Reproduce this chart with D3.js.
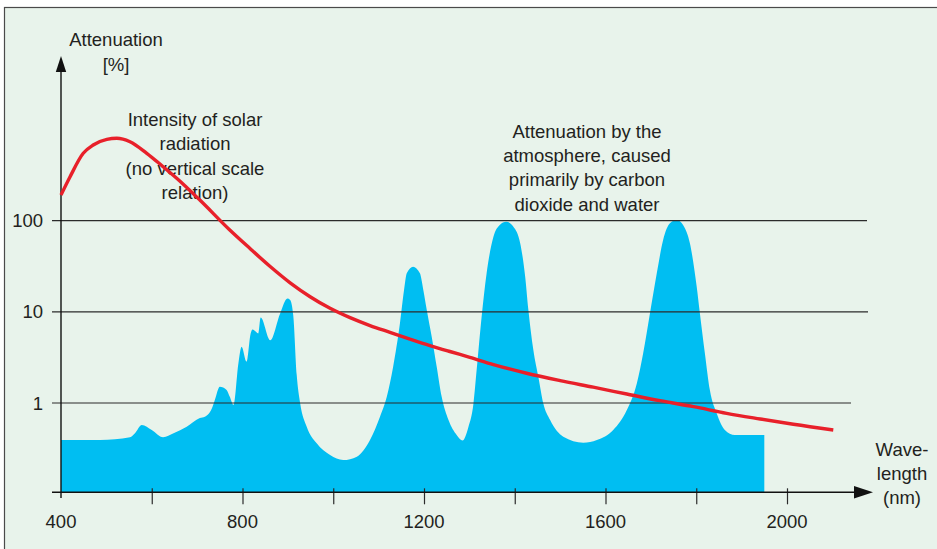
<!DOCTYPE html>
<html><head><meta charset="utf-8">
<script src="https://cdn.jsdelivr.net/npm/d3@7"></script>
<style>html,body{margin:0;padding:0;background:#fff;}svg{display:block;}</style>
</head><body>
<script>
// ---- data ----
const xTickValues = [400, 600, 800, 1000, 1200, 1400, 1600, 1800, 2000];
const xTickLabels = [400, 800, 1200, 1600, 2000];
const yTickValues = [1, 10, 100];
const yTickLabels = ["1", "10", "100"];

// Attenuation by the atmosphere [%] vs wavelength [nm]
const attenNm  = [400, 486, 552, 563, 578, 600, 625, 648, 677, 706, 717, 734, 739, 750, 765, 772, 780, 791, 798, 809, 818, 822, 835, 840, 861, 883, 899, 905, 912, 919.5, 927, 941.5, 963.5, 993, 1022, 1052, 1081, 1103, 1118, 1132, 1147, 1156, 1162, 1176, 1191, 1198.5, 1206, 1217, 1228, 1239, 1254, 1272, 1285, 1298, 1309, 1316, 1327, 1338, 1353, 1367, 1381, 1397, 1412, 1423, 1430, 1441, 1452, 1463, 1478, 1507, 1551, 1581, 1617, 1647, 1669, 1683, 1698, 1713, 1727, 1742, 1757, 1771, 1786, 1801, 1808, 1819, 1830, 1845, 1863, 1885, 1948, 1950];
const attenVal = [0.394, 0.394, 0.421, 0.466, 0.574, 0.506, 0.421, 0.466, 0.55, 0.685, 0.708, 0.911, 1.08, 1.508, 1.388, 1.17, 0.951, 2.72, 4.13, 2.83, 5.79, 6.41, 5.79, 8.67, 4.89, 9.6, 14.0, 13.5, 9.0, 2.03, 1.0, 0.55, 0.361, 0.269, 0.237, 0.258, 0.393, 0.708, 1.17, 2.5, 7.48, 17.3, 26.4, 31.2, 26.4, 17.3, 10.5, 5.33, 2.5, 1.17, 0.651, 0.446, 0.388, 0.55, 0.99, 2.3, 8.84, 26.4, 66.6, 89.5, 97.3, 85.8, 56.4, 24.3, 10.5, 3.81, 1.94, 0.99, 0.651, 0.427, 0.367, 0.393, 0.506, 0.838, 1.64, 3.51, 9.63, 26.4, 61.3, 93.4, 101.6, 89.5, 56.4, 18.8, 9.63, 3.51, 1.39, 0.771, 0.506, 0.446, 0.446, 0.446];

// Intensity of solar radiation (no vertical scale relation)
const solarNm  = [400, 420, 449, 471, 501, 523, 552, 589, 625, 655, 706, 772, 816, 861, 905, 949, 993, 1037, 1081, 1125, 1169, 1213, 1257, 1301, 1353, 1426, 1500, 1573, 1647, 1720, 1794, 1867, 1941, 2014, 2102];
const solarVal = [191, 303, 547, 674, 779, 799, 733, 547, 390, 291, 168, 78.9, 49.7, 31.4, 20.8, 14.64, 10.92, 8.62, 7.07, 5.96, 5.03, 4.27, 3.67, 3.17, 2.64, 2.12, 1.76, 1.49, 1.255, 1.06, 0.911, 0.771, 0.668, 0.584, 0.506];

// ---- layout ----
const W = 937, H = 549;
const FONT = "'Liberation Sans', Arial, Helvetica, sans-serif";
const TXT = "#231f20";
const svg = d3.select("body").append("svg").attr("width", W).attr("height", H);

svg.append("rect").attr("x", 0).attr("y", 0).attr("width", W).attr("height", H).attr("fill", "#fff");
svg.append("rect").attr("x", 4.5).attr("y", 7.5).attr("width", W + 10).attr("height", H + 10)
  .attr("fill", "#e8f3eb").attr("stroke", "#4a4a4a").attr("stroke-width", 1.2);

const x = d3.scaleLinear().domain([400, 2000]).range([61, 787]);
const y = d3.scaleLog().domain([1, 100]).range([403, 220.6]);
const yBase = 492.3;

// attenuation area
const area = d3.area()
  .x((d, i) => x(attenNm[i]))
  .y0(yBase)
  .y1((d, i) => y(attenVal[i]))
  .curve(d3.curveMonotoneX);
svg.append("path").datum(attenVal).attr("d", area).attr("fill", "#00bef2");

// gridlines
const gridEnd = {1: 851, 10: 868, 100: 867};
svg.append("g").selectAll("line").data(yTickValues).join("line")
  .attr("x1", 52).attr("x2", d => gridEnd[d])
  .attr("y1", d => y(d)).attr("y2", d => y(d))
  .attr("stroke", "#2b2b2b").attr("stroke-width", 1.2);

// y labels
svg.append("g").selectAll("text").data(yTickValues).join("text")
  .attr("x", 43).attr("y", d => y(d) + 6.5)
  .attr("text-anchor", "end").attr("font-family", FONT).attr("font-size", 18.5).attr("fill", TXT)
  .text((d, i) => yTickLabels[i]);

// x axis
const xAxis = d3.axisBottom(x).tickValues(xTickValues).tickSize(0).tickFormat("");
const gx = svg.append("g").attr("transform", `translate(0,${yBase})`).call(xAxis);
gx.select(".domain").remove();
gx.selectAll(".tick line").remove();
gx.selectAll(".tick").filter(d => d !== 400).append("line")
  .attr("y1", -4).attr("y2", 12).attr("stroke", "#2b2b2b").attr("stroke-width", 1.2);
svg.append("line").attr("x1", 52).attr("x2", 858).attr("y1", yBase).attr("y2", yBase)
  .attr("stroke", "#111").attr("stroke-width", 1.4);
svg.append("path").attr("d", `M873,${yBase} L854,${yBase - 6.2} L854,${yBase + 6.2} Z`).attr("fill", "#111");

svg.append("g").selectAll("text").data(xTickLabels).join("text")
  .attr("x", d => x(d)).attr("y", 528)
  .attr("text-anchor", "middle").attr("font-family", FONT).attr("font-size", 18.5).attr("fill", TXT)
  .text(d => d);

// y axis
svg.append("line").attr("x1", 61).attr("x2", 61).attr("y1", 498).attr("y2", 68)
  .attr("stroke", "#111").attr("stroke-width", 1.4);
svg.append("path").attr("d", "M61,56 L55.8,72 L66.2,72 Z").attr("fill", "#111");

// texts
function block(lines, cx, y0, dy) {
  const t = svg.append("text").attr("font-family", FONT).attr("font-size", 18.5).attr("fill", TXT)
    .attr("text-anchor", "middle");
  lines.forEach((s, i) => t.append("tspan").attr("x", cx).attr("y", y0 + i * dy).text(s));
}
block(["Attenuation", "[%]"], 116, 46, 24.5);
block(["Intensity of solar", "radiation", "(no vertical scale", "relation)"], 195, 126, 24.4);
block(["Attenuation by the", "atmosphere, caused", "primarily by carbon", "dioxide and water"], 587, 138, 24.2);
block(["Wave-", "length", "(nm)"], 902, 456, 24.2);

// solar curve
const line = d3.line()
  .x((d, i) => x(solarNm[i]))
  .y((d, i) => y(solarVal[i]))
  .curve(d3.curveMonotoneX);
svg.append("path").datum(solarVal).attr("d", line)
  .attr("fill", "none").attr("stroke", "#e8202a").attr("stroke-width", 3.4).attr("stroke-linecap", "butt");
</script>
</body></html>
